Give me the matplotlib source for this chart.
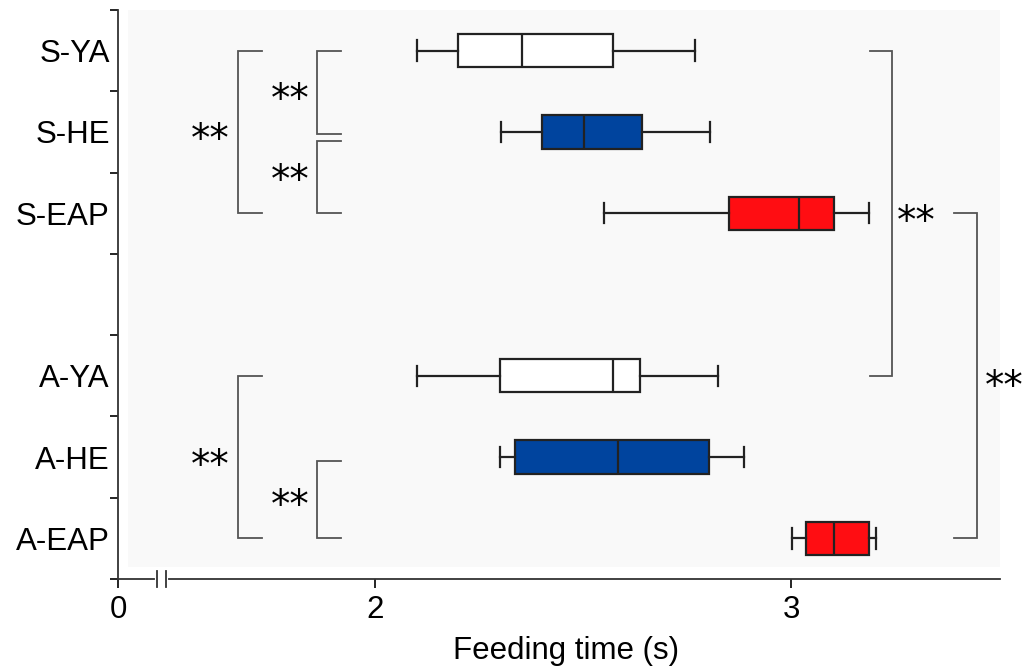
import matplotlib.pyplot as plt
from matplotlib.patches import Rectangle

plt.rcParams['font.family'] = ['Liberation Sans', 'DejaVu Sans']

# groups, top to bottom
groups = ['S-YA', 'S-HE', 'S-EAP', 'A-YA', 'A-HE', 'A-EAP']
ypos = [7, 6, 5, 3, 2, 1]
whislo = [2.100, 2.303, 2.551, 2.100, 2.300, 3.002]
q1 = [2.200, 2.401, 2.851, 2.300, 2.337, 3.036]
med = [2.354, 2.501, 3.019, 2.571, 2.585, 3.102]
q3 = [2.571, 2.642, 3.103, 2.637, 2.802, 3.188]
whishi = [2.770, 2.805, 3.188, 2.825, 2.886, 3.204]
colors = ['white', '#00449e', '#ff0d12', 'white', '#00449e', '#ff0d12']

xticks = [2, 3]
xlabels = ['0', '2', '3']
x_zero = 1.382   # where the "0" sits, left of the axis break
x_right = 3.502

# significance brackets: (y_from, y_to, x_bracket, x_arm, label_x, label_y)
left_brackets = [
    (7, 5, 1.670, 1.728, 1.603, 6),
    (7, 5.975, 1.860, 1.918, 1.797, 6.5),
    (5.89, 5, 1.860, 1.918, 1.797, 5.5),
    (3, 1, 1.670, 1.728, 1.603, 2),
    (1.95, 1, 1.860, 1.918, 1.797, 1.5),
]
right_brackets = [
    (7, 3, 3.242, 3.190, 3.300, 5),
    (5, 1, 3.447, 3.392, 3.512, 2.96),
]

fig = plt.figure(figsize=(10.34, 6.68), dpi=100)
ax = fig.add_axes([118 / 1034, 1 - 579 / 668, 882 / 1034, 569 / 668])

# light grey plotting area
ax.add_patch(Rectangle((0.0113, 0.021), 0.989, 0.979, transform=ax.transAxes,
                       facecolor='#f9f9f9', edgecolor='none', zorder=0))

stats = []
for i in range(len(groups)):
    stats.append(dict(whislo=whislo[i], q1=q1[i], med=med[i], q3=q3[i],
                      whishi=whishi[i], fliers=[], label=groups[i]))

bp = ax.bxp(stats, positions=ypos, orientation='horizontal', widths=0.41,
            patch_artist=True, showfliers=False,
            boxprops=dict(edgecolor='#222222', linewidth=1.6),
            medianprops=dict(color='#222222', linewidth=1.6),
            whiskerprops=dict(color='#222222', linewidth=1.6),
            capprops=dict(color='#222222', linewidth=1.6),
            capwidths=0.25)
for box, c in zip(bp['boxes'], colors):
    box.set_facecolor(c)

bcol = '#555555'
star_size = 28
for y0, y1, xb, xa, lx, ly in left_brackets + right_brackets:
    ax.plot([xa, xb, xb, xa], [y0, y0, y1, y1], color=bcol, lw=1.3,
            clip_on=False, solid_joinstyle='miter')
    ax.annotate('**', (lx, ly), xytext=(0, -0.5 * star_size), textcoords='offset points',
                ha='center', va='baseline', fontsize=star_size,
                family='DejaVu Sans', annotation_clip=False)

ax.set_xlim(x_zero, x_right)
ax.set_ylim(0.5, 7.5)

ax.set_xticks([x_zero] + xticks)
ax.set_xticklabels(xlabels)
ax.set_yticks(ypos)
ax.set_yticklabels(groups)
ax.set_yticks([p + 0.5 for p in range(8)], minor=True)
ax.tick_params(axis='y', which='major', length=0, pad=6, labelsize=22.5)
ax.tick_params(axis='y', which='minor', length=5.8, width=1.2, direction='out')
ax.tick_params(axis='x', which='major', length=6.5, width=1.2, direction='out',
               pad=5, labelsize=22.5)

for s in ['top', 'right']:
    ax.spines[s].set_visible(False)
for s in ['left', 'bottom']:
    ax.spines[s].set_linewidth(1.3)
    ax.spines[s].set_color('#333333')
ax.set_facecolor('white')

# axis break
ax.plot([1.4752, 1.4976], [0.5, 0.5], color='white', lw=3, clip_on=False, zorder=5)
for bx in [1.4752, 1.4976]:
    ax.plot([bx, bx], [0.40, 0.60], color='#333333', lw=1.3, clip_on=False, zorder=6)

ax.set_xlabel('Feeding time (s)', fontsize=22.5)
ax.xaxis.set_label_coords(0.508, -0.141)
ax.xaxis.label.set_va('baseline')

fig.savefig('out.png', dpi=100)
